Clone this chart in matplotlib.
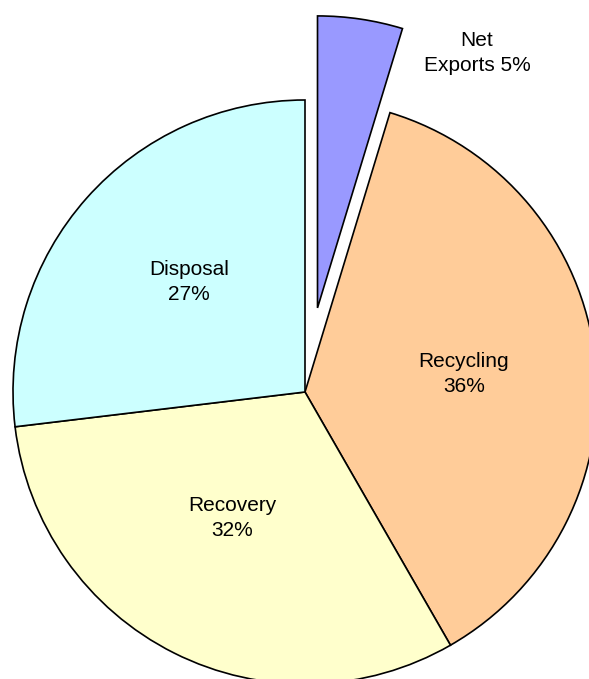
import matplotlib.pyplot as plt

categories = ['Net Exports', 'Recycling', 'Recovery', 'Disposal']
shares = [4.7, 37.0, 31.4, 26.9]
label_txt = ['Net\nExports 5%', 'Recycling\n36%', 'Recovery\n32%', 'Disposal\n27%']
colors = ['#9999FF', '#FFCC99', '#FFFFCC', '#CCFFFF']
explode = [85, 0, 0, 0]  # matplotlib uses absolute data units here

fig = plt.figure(figsize=(5.89, 6.79), dpi=100)
ax = fig.add_axes([0, 0, 1, 1])

ax.pie(shares, colors=colors, explode=explode, startangle=90, counterclock=False,
       center=(305, 287), radius=292,
       wedgeprops={'edgecolor': 'black', 'linewidth': 1.2})

# labels
label_pos = [(477, 626), (464, 305), (232, 161), (189, 397)]
for (x, y), t in zip(label_pos, label_txt):
    ax.text(x, y, t, ha='center', va='center', fontsize=15, family='Liberation Sans',
            linespacing=1.45)

ax.set_xlim(0, 589)
ax.set_ylim(0, 679)
ax.set_aspect('equal')
ax.axis('off')

plt.savefig('out.png', dpi=100)
